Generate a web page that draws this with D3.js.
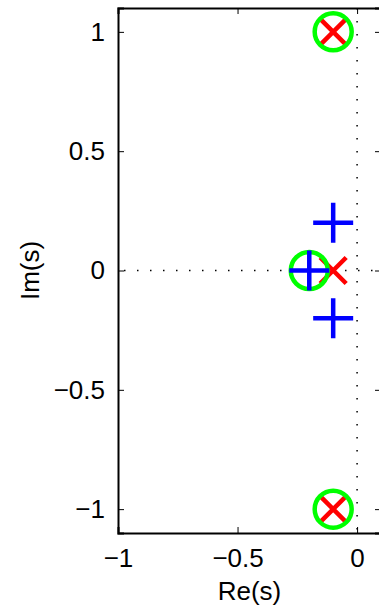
<!DOCTYPE html>
<html>
<head>
<meta charset="utf-8">
<script src="https://cdn.jsdelivr.net/npm/d3@7"></script>
<style>
  body { margin: 0; background: #fff; }
  svg { display: block; font-family: "Liberation Sans", Arial, sans-serif; }
</style>
</head>
<body>
<div id="plothere"></div>
<script>
// pole / zero data (Re, Im)
var poles = [[-0.1, 1], [-0.1, 0], [-0.1, -1]];
var zeros = [[-0.1, 1], [-0.2, 0], [-0.1, -1]];
var plus  = [[-0.1, 0.2], [-0.2, 0], [-0.1, -0.2]];
var xTicks = [-1, -0.5, 0];
var yTicks = [-1, -0.5, 0, 0.5, 1];
var xDomain = [-1, 0.1];
var yDomain = [-1.1, 1.1];

var W = 379, H = 612;
var margin = {top: 8, left: 118, bottom: 79},
    width = 263,
    height = H - margin.top - margin.bottom;
var fs = 26;

var svg = d3.select("#plothere")
  .append("svg")
  .attr("width", W)
  .attr("height", H);

var x = d3.scaleLinear().domain(xDomain).range([margin.left, margin.left + width]);
var y = d3.scaleLinear().domain(yDomain).range([margin.top + height, margin.top]);

function fmt(d) { return d3.format("")(d).replace("-", "\u2212"); }

// dotted guide lines through the origin
svg.append("line")
  .attr("x1", x(0)).attr("x2", x(0))
  .attr("y1", y(yDomain[1])).attr("y2", y(yDomain[0]))
  .attr("stroke", "#000").attr("stroke-width", 1.5)
  .attr("stroke-dasharray", "1.5,11.5");
svg.append("line")
  .attr("x1", x(xDomain[0]) + 6).attr("x2", x(xDomain[1]))
  .attr("y1", y(0)).attr("y2", y(0))
  .attr("stroke", "#000").attr("stroke-width", 1.5)
  .attr("stroke-dasharray", "1.5,11.5");

// axes box with inward ticks
var tk = 6;
svg.append("g")
  .attr("transform", "translate(0," + y(yDomain[0]) + ")")
  .call(d3.axisBottom(x).tickValues(xTicks).tickSize(-tk).tickPadding(16).tickFormat(fmt))
  .call(g => g.select(".domain").attr("stroke-width", 2))
  .call(g => g.selectAll("text").attr("font-size", fs).attr("fill", "#000"));
svg.append("g")
  .attr("transform", "translate(0," + y(yDomain[1]) + ")")
  .call(d3.axisTop(x).tickValues(xTicks).tickSize(-tk).tickFormat(""))
  .call(g => g.select(".domain").attr("stroke-width", 2));
svg.append("g")
  .attr("transform", "translate(" + x(xDomain[0]) + ",0)")
  .call(d3.axisLeft(y).tickValues(yTicks).tickSize(-tk).tickPadding(13).tickFormat(fmt))
  .call(g => g.select(".domain").attr("stroke-width", 2))
  .call(g => g.selectAll("text").attr("font-size", fs).attr("fill", "#000"));
svg.append("g")
  .attr("transform", "translate(" + x(xDomain[1]) + ",0)")
  .call(d3.axisRight(y).tickValues(yTicks).tickSize(-tk).tickFormat(""))
  .call(g => g.select(".domain").attr("stroke-width", 2));

// markers
var rX = 13, rP = 20, rO = 18.5, sw = 4.5;
svg.append("g").selectAll("path")
  .data(poles).enter().append("path")
  .attr("d", function(d) {
    var cx = x(d[0]), cy = y(d[1]);
    return "M" + (cx - rX) + "," + (cy - rX) + "L" + (cx + rX) + "," + (cy + rX) +
           "M" + (cx - rX) + "," + (cy + rX) + "L" + (cx + rX) + "," + (cy - rX);
  })
  .attr("stroke", "#ff0000").attr("stroke-width", sw).attr("fill", "none");
svg.append("g").selectAll("circle")
  .data(zeros).enter().append("circle")
  .attr("cx", function(d) { return x(d[0]); })
  .attr("cy", function(d) { return y(d[1]); })
  .attr("r", rO)
  .attr("stroke", "#00ff00").attr("stroke-width", sw).attr("fill", "none");
svg.append("g").selectAll("path")
  .data(plus).enter().append("path")
  .attr("d", function(d) {
    var cx = x(d[0]), cy = y(d[1]);
    return "M" + (cx - rP) + "," + cy + "L" + (cx + rP) + "," + cy +
           "M" + cx + "," + (cy - rP) + "L" + cx + "," + (cy + rP);
  })
  .attr("stroke", "#0000ff").attr("stroke-width", sw).attr("fill", "none");

// axis labels
svg.append("text")
  .attr("x", x(-0.45)).attr("y", 600)
  .attr("text-anchor", "middle").attr("font-size", fs)
  .text("Re(s)");
svg.append("text")
  .attr("transform", "translate(39," + y(0) + ") rotate(-90)")
  .attr("text-anchor", "middle").attr("font-size", fs)
  .text("Im(s)");
</script>
</body>
</html>
